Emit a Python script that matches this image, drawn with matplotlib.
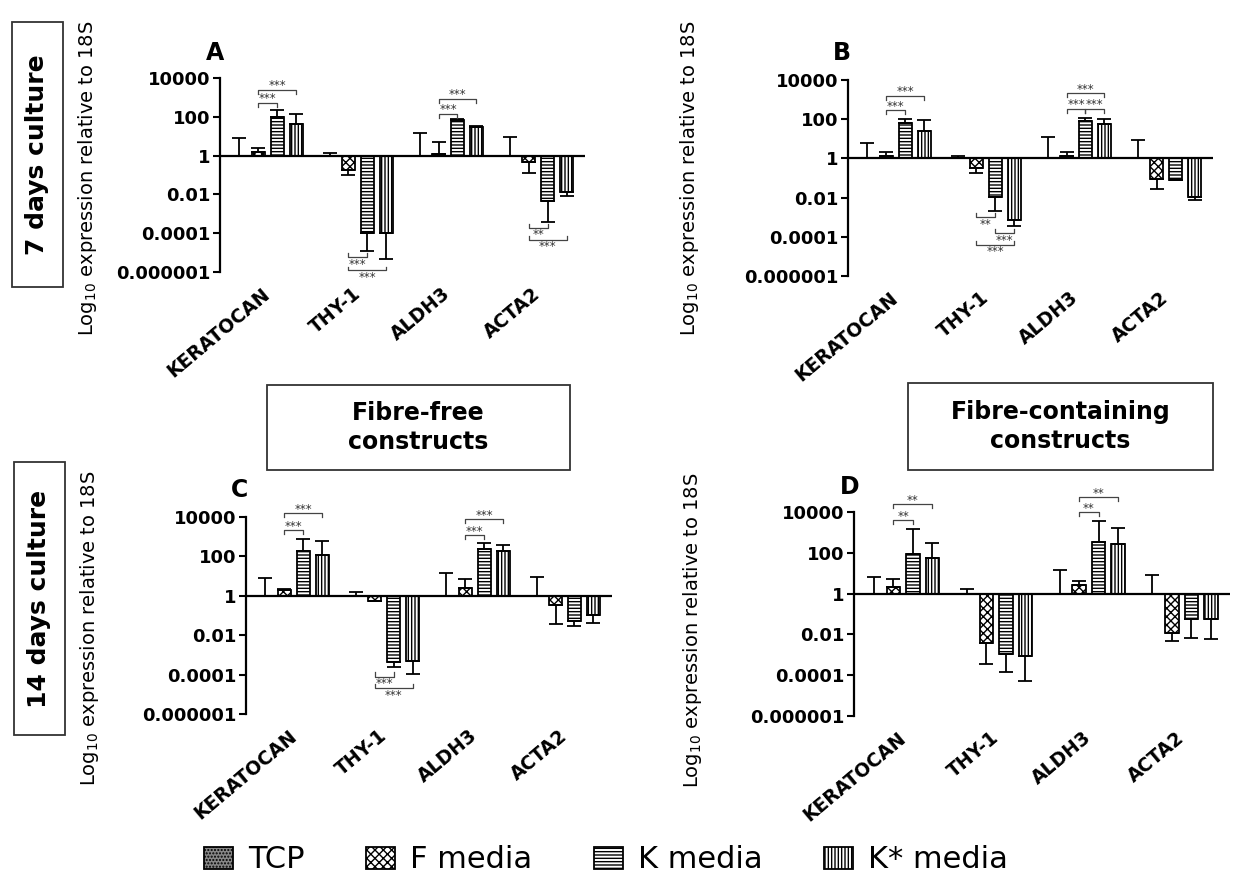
import matplotlib
matplotlib.use("Agg")
import matplotlib.pyplot as plt
from matplotlib.patches import Patch, Rectangle
import numpy as np

plt.rcParams['font.family'] = ['DejaVu Sans']
plt.rcParams['hatch.linewidth'] = 1.0

genes = ['KERATOCAN', 'THY-1', 'ALDH3', 'ACTA2']
series = ['TCP', 'F media', 'K media', 'K* media']

# Mean expression (fold, relative to TCP = 1) and whisker tips, per panel
a_tcp_err = [8, 1.4, 15, 9.5]
a_f = [1.6, 0.19, 1.2, 0.45]
a_f_err = [2.5, 0.097, 4.9, 0.13]
a_k = [94, 1e-4, 66, 0.0044]
a_k_err = [215, 1.2e-5, 75, 0.0004]
a_ks = [43, 1e-4, 30, 0.013]
a_ks_err = [146, 4.7e-6, 35, 0.008]

b_tcp_err = [6.3, 1.4, 12, 9]
b_f = [1.26, 0.32, 1.26, 0.092]
b_f_err = [2.1, 0.18, 2.1, 0.028]
b_k = [63, 0.011, 77, 0.075]
b_k_err = [98, 0.002, 120, 0.075]
b_ks = [24, 0.00075, 59, 0.0106]
b_ks_err = [94, 0.00036, 98, 0.0072]

c_tcp_err = [7.9, 1.6, 15, 9.5]
c_f = [2.0, 0.55, 2.6, 0.35]
c_f_err = [2.3, 0.55, 7, 0.037]
c_k = [190, 0.00043, 235, 0.054]
c_k_err = [780, 0.00023, 500, 0.028]
c_ks = [120, 0.0005, 190, 0.11]
c_ks_err = [640, 0.00011, 390, 0.044]

d_tcp_err = [6.8, 1.6, 14.5, 8.5]
d_f = [2.2, 0.0038, 2.7, 0.0113]
d_f_err = [5.2, 0.00036, 4.3, 0.0045]
d_k = [89, 0.0011, 355, 0.057]
d_k_err = [1500, 0.00015, 3800, 0.0067]
d_ks = [54, 0.00085, 275, 0.057]
d_ks_err = [290, 0.00005, 1600, 0.006]

# Significance: (gene index, bar i, bar j, bracket level, label)
a_sig = [(0, 1, 2, 540, '***'), (0, 1, 3, 2500, '***'),
         (2, 1, 2, 147, '***'), (2, 1, 3, 870, '***'),
         (1, 1, 2, 6e-6, '***'), (1, 1, 3, 1.2e-6, '***'),
         (3, 1, 2, 1.9e-4, '**'), (3, 1, 3, 4.7e-5, '***')]
b_sig = [(0, 1, 2, 300, '***'), (0, 1, 3, 1600, '***'),
         (2, 1, 2, 345, '***'), (2, 2, 3, 345, '***'), (2, 1, 3, 2150, '***'),
         (1, 1, 2, 1e-3, '**'), (1, 2, 3, 1.5e-4, '***'), (1, 1, 3, 4e-5, '***')]
c_sig = [(0, 1, 2, 2200, '***'), (0, 1, 3, 16000, '***'),
         (2, 1, 2, 1250, '***'), (2, 1, 3, 7800, '***'),
         (1, 1, 2, 8e-5, '***'), (1, 1, 3, 2e-5, '***')]
d_sig = [(0, 1, 2, 4100, '**'), (0, 1, 3, 25000, '**'),
         (2, 1, 2, 9700, '**'), (2, 1, 3, 56000, '**')]

ytick_vals = [1e-6, 1e-4, 1e-2, 1, 1e2, 1e4]
ytick_labels = ['0.000001', '0.0001', '0.01', '1', '100', '10000']

hatches = ['.....', 'xxxx', '-----', '|||||']
faces = ['#888888', 'white', 'white', 'white']

W, H = 1240, 876
fig = plt.figure(figsize=(W / 100, H / 100), dpi=100)


def px_axes(x0, y0, x1, y1):
    return fig.add_axes([x0 / W, 1 - y1 / H, (x1 - x0) / W, (y1 - y0) / H])


step = 0.21
bw = 0.145


def bar_x(g, j):
    return g + (j - 1.5) * step


def draw_panel(ax, tcp_err, f, f_err, k, k_err, ks, ks_err, sig, letter, letter_xy):
    vals = [[1.0] * 4, f, k, ks]
    tips = [tcp_err, f_err, k_err, ks_err]
    groups = np.arange(len(genes))
    for j in range(4):
        xs = groups + (j - 1.5) * step
        v = np.array(vals[j], dtype=float)
        t = np.array(tips[j], dtype=float)
        ax.bar(xs, v - 1, bottom=1, width=bw, color=faces[j], edgecolor='black',
               hatch=hatches[j], linewidth=1.3, zorder=2)
        lower = np.where(v < 1, v - t, 0)
        upper = np.where(v >= 1, t - v, 0)
        ax.errorbar(xs, v, yerr=[lower, upper], fmt='none', ecolor='black',
                    elinewidth=1.3, capsize=5, capthick=1.3, zorder=3)
    ax.axhline(1, color='black', linewidth=1.6, zorder=4)
    ax.set_yscale('log')
    ax.set_ylim(1e-6, 1e4)
    ax.set_xlim(-0.53, 3.52)
    ax.set_yticks(ytick_vals)
    ax.set_yticklabels(ytick_labels)
    ax.minorticks_off()
    ax.tick_params(axis='y', length=5, width=1.5, labelsize=13, pad=2)
    for lab in ax.get_yticklabels():
        lab.set_fontweight('bold')
    ax.set_xticks(groups)
    ax.set_xticklabels(genes, rotation=40, ha='right', va='center',
                       rotation_mode='anchor', fontweight='bold', fontsize=13.5)
    ax.tick_params(axis='x', length=0, pad=14)
    for s in ['top', 'right', 'bottom']:
        ax.spines[s].set_visible(False)
    ax.spines['left'].set_linewidth(1.6)
    ax.patch.set_alpha(0)

    for g, i, j, y, lab in sig:
        x0, x1 = bar_x(g, i), bar_x(g, j)
        up = y > 1
        tick = y / 1.6 if up else y * 1.6
        ax.plot([x0, x0, x1, x1], [tick, y, y, tick], color='#444444',
                linewidth=0.9, clip_on=False, zorder=5)
        ax.annotate(lab, ((x0 + x1) / 2, y), xytext=(0, -2 if up else -0.5),
                    textcoords='offset points', ha='center',
                    va='bottom' if up else 'top', fontsize=8.5, color='#333333',
                    annotation_clip=False)

    fig.text(letter_xy[0] / W, 1 - letter_xy[1] / H, letter, fontsize=17,
             fontweight='bold', ha='center', va='center')


axA = px_axes(220, 78, 585, 272)
axB = px_axes(848, 80, 1213, 276)
axC = px_axes(246, 517, 612, 714)
axD = px_axes(854, 512, 1230, 716)

draw_panel(axA, a_tcp_err, a_f, a_f_err, a_k, a_k_err, a_ks, a_ks_err, a_sig, 'A', (215, 53))
draw_panel(axB, b_tcp_err, b_f, b_f_err, b_k, b_k_err, b_ks, b_ks_err, b_sig, 'B', (842, 53))
draw_panel(axC, c_tcp_err, c_f, c_f_err, c_k, c_k_err, c_ks, c_ks_err, c_sig, 'C', (240, 490))
draw_panel(axD, d_tcp_err, d_f, d_f_err, d_k, d_k_err, d_ks, d_ks_err, d_sig, 'D', (850, 487))

# y-axis titles
ylab = r'Log$_{10}$ expression relative to 18S'
for (x, y) in [(88, 178), (690, 178), (90, 628), (693, 630)]:
    fig.text(x / W, 1 - y / H, ylab, rotation=90, ha='center', va='center', fontsize=14)


def boxed(x0, y0, x1, y1, text, rot=0, size=17):
    fig.add_artist(Rectangle((x0 / W, 1 - y1 / H), (x1 - x0) / W, (y1 - y0) / H,
                             transform=fig.transFigure, facecolor='white',
                             edgecolor='#333333', linewidth=1.3))
    fig.text((x0 + x1) / 2 / W, 1 - (y0 + y1) / 2 / H, text, rotation=rot,
             ha='center', va='center', fontsize=size, fontweight='bold',
             linespacing=1.25)


boxed(12, 22, 63, 287, '7 days culture', rot=90, size=18)
boxed(14, 462, 65, 735, '14 days culture', rot=90, size=18)
boxed(267, 385, 570, 470, 'Fibre-free\nconstructs')
boxed(908, 383, 1213, 470, 'Fibre-containing\nconstructs')

handles = [Patch(facecolor=faces[j], edgecolor='black', hatch=hatches[j],
                 linewidth=1.3, label=series[j]) for j in range(4)]
fig.legend(handles=handles, loc='center', bbox_to_anchor=(606 / W, 1 - 860 / H),
           ncol=4, frameon=False, fontsize=22, handlelength=0.95, handleheight=0.7,
           handletextpad=0.5, columnspacing=2.0, borderpad=0.1)

fig.savefig('out.png', dpi=100, facecolor='white')
